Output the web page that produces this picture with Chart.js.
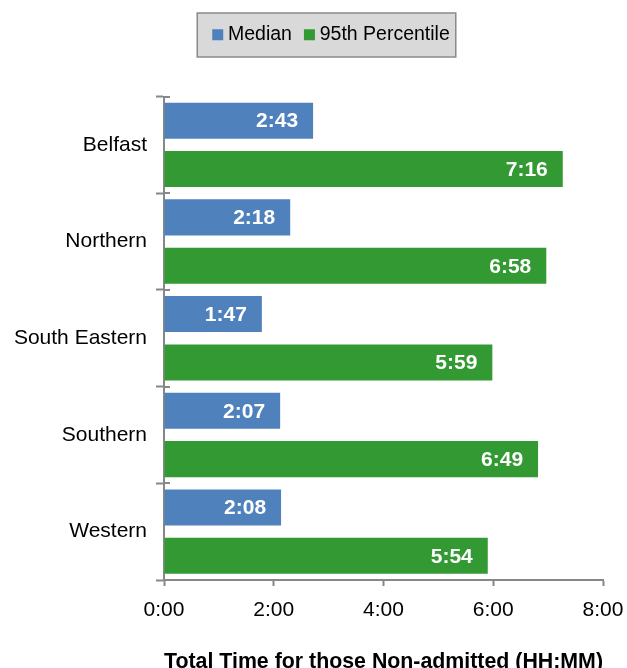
<!DOCTYPE html>
<html>
<head>
<meta charset="utf-8">
<script src="https://cdn.jsdelivr.net/npm/chart.js@4.4.1/dist/chart.umd.min.js"></script>
<style>
  html, body { margin: 0; padding: 0; background: #fff; }
</style>
</head>
<body>
<canvas id="myChart" width="627" height="668"></canvas>
<script>
// Times per trust, as HH:MM
const regions = ['Belfast', 'Northern', 'South Eastern', 'Southern', 'Western'];
const medianTimes = ['2:43', '2:18', '1:47', '2:07', '2:08'];
const p95Times = ['7:16', '6:58', '5:59', '6:49', '5:54'];
const axisTicks = ['0:00', '2:00', '4:00', '6:00', '8:00'];

const FONT = '"Liberation Sans", Arial, sans-serif';
const AXIS_GREY = '#878787';

function toMinutes(hhmm) {
  const [h, m] = hhmm.split(':').map(Number);
  return h * 60 + m;
}

function toHHMM(mins) {
  const h = Math.floor(mins / 60);
  const m = mins % 60;
  return h + ':' + String(m).padStart(2, '0');
}

// White value text at the end of each bar
const barValueLabels = {
  id: 'barValueLabels',
  afterDatasetsDraw(chart) {
    const ctx = chart.ctx;
    ctx.save();
    ctx.font = 'bold 21px ' + FONT;
    ctx.fillStyle = '#fff';
    ctx.textAlign = 'right';
    ctx.textBaseline = 'middle';
    chart.data.datasets.forEach((ds, i) => {
      chart.getDatasetMeta(i).data.forEach((bar, j) => {
        ctx.fillText(toHHMM(ds.data[j]), bar.x - 15, bar.y + 1);
      });
    });
    ctx.restore();
  }
};

// Grey framed box behind the legend, plus extra room under it
const legendBox = {
  id: 'legendBox',
  afterInit(chart) {
    const legend = chart.legend;
    const fit = legend.fit;
    legend.fit = function () {
      fit.call(this);
      this.height += 42;
    };
  },
  afterLayout(chart) {
    // centre the legend over the plot rather than the whole canvas
    chart.legend.left += 40;
  },
  beforeDraw(chart) {
    const boxes = chart.legend.legendHitBoxes;
    if (!boxes || !boxes.length) return;
    const first = boxes[0];
    const last = boxes[boxes.length - 1];
    const left = first.left - 20;
    const right = last.left + last.width + 6;
    const ctx = chart.ctx;
    ctx.save();
    ctx.fillStyle = '#d9d9d9';
    ctx.fillRect(left, 13, right - left, 44);
    ctx.strokeStyle = '#8a8a8a';
    ctx.lineWidth = 1.5;
    ctx.strokeRect(left, 13, right - left, 44);
    ctx.restore();
  },
  // category tick marks cross the axis line
  afterDraw(chart) {
    const y = chart.scales.y;
    const x0 = chart.chartArea.left;
    const ctx = chart.ctx;
    ctx.save();
    ctx.strokeStyle = AXIS_GREY;
    ctx.lineWidth = 2;
    for (let i = 0; i <= regions.length; i++) {
      const py = Math.round(y.getPixelForValue(i - 0.5));
      ctx.beginPath();
      ctx.moveTo(x0, py);
      ctx.lineTo(x0 + 6, py);
      ctx.stroke();
    }
    ctx.restore();
  }
};

const ctx = document.getElementById('myChart').getContext('2d');

const myChart = new Chart(ctx, {
  type: 'bar',
  data: {
    labels: regions,
    datasets: [{
      label: 'Median',
      data: medianTimes.map(toMinutes),
      backgroundColor: '#4f81bd'
    }, {
      label: '95th Percentile',
      data: p95Times.map(toMinutes),
      backgroundColor: '#339933'
    }]
  },
  options: {
    indexAxis: 'y',
    responsive: false,
    animation: false,
    devicePixelRatio: 1,
    layout: {
      padding: { left: 0, right: 0, top: 8, bottom: 0 }
    },
    datasets: {
      bar: { categoryPercentage: 1.0, barPercentage: 0.745 }
    },
    plugins: {
      legend: {
        position: 'top',
        labels: {
          usePointStyle: true,
          pointStyle: 'rect',
          boxWidth: 1,
          boxHeight: 11,
          padding: 17,
          color: '#000',
          font: { family: FONT, size: 19.5 }
        }
      },
      tooltip: { enabled: false }
    },
    scales: {
      x: {
        type: 'linear',
        min: 0,
        max: toMinutes(axisTicks[axisTicks.length - 1]),
        afterBuildTicks: scale => {
          scale.ticks = axisTicks.map(t => ({ value: toMinutes(t) }));
        },
        ticks: {
          callback: value => toHHMM(value),
          color: '#000',
          padding: 12,
          maxRotation: 0,
          autoSkip: false,
          font: { family: FONT, size: 21 }
        },
        grid: {
          drawOnChartArea: false,
          tickLength: 6,
          tickWidth: 2,
          color: AXIS_GREY
        },
        border: { color: AXIS_GREY, width: 2 },
        title: {
          display: true,
          text: 'Total Time for those Non-admitted (HH:MM)',
          color: '#000',
          font: { family: FONT, size: 21.7, weight: 'bold' },
          padding: { top: 0, bottom: -7 }
        },
        afterFit: scale => {
          scale.height = 88;
          scale.paddingRight = 24;
        }
      },
      y: {
        ticks: {
          color: '#000',
          padding: 9,
          font: { family: FONT, size: 21 }
        },
        grid: {
          offset: true,
          drawOnChartArea: false,
          tickLength: 8,
          tickWidth: 2,
          color: AXIS_GREY
        },
        border: { color: AXIS_GREY, width: 2 },
        afterFit: scale => {
          scale.width = 164;
        }
      }
    }
  },
  plugins: [barValueLabels, legendBox]
});
</script>
</body>
</html>
